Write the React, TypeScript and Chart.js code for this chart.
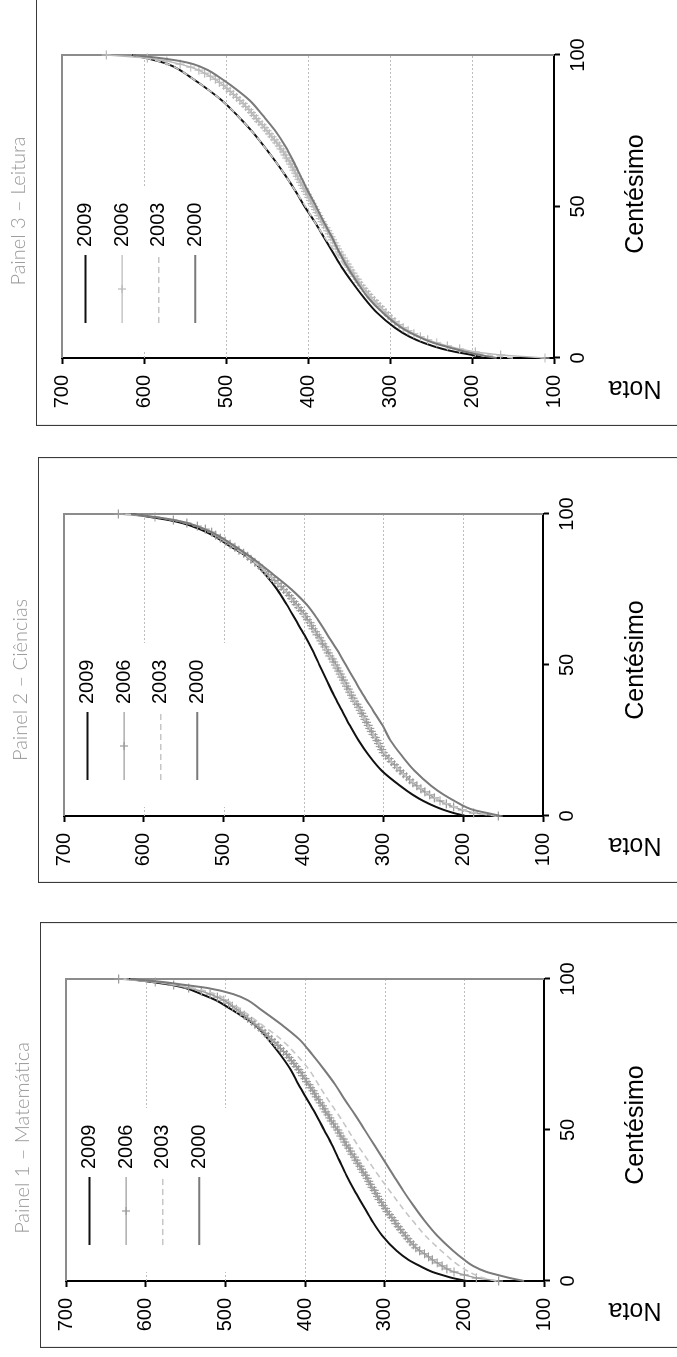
import React, { useEffect, useRef } from "react";
import { Chart, registerables } from "chart.js";

Chart.register(...registerables);

// ---------- data ----------
const YEARS = ["2009", "2006", "2003", "2000"];
const GRID_NOTAS = [200, 300, 400, 500, 600];
const CENT_SPARSE = [0, 1, 2, 3, 5, 7, 10, 15, 20, 25, 30, 35, 40, 45, 50, 55, 60, 65, 70, 75, 80, 85, 90, 93, 95, 97, 98, 99, 100];
const CENT_FULL = Array.from({ length: 101 }, (_, i) => i);

// Painel 1 – Matemática
const MAT_2009 = [197, 215, 228, 240, 256, 270, 285, 303, 316, 327, 338, 348, 357, 366, 376, 386, 397, 408, 418, 431, 446, 464, 493, 512, 530, 550, 567, 592, 621];
const MAT_2003 = [160, 176, 186, 194, 206, 216, 229, 249, 265, 280, 294, 308, 321, 334, 346, 358, 371, 383, 395, 411, 430, 455, 481, 498, 512, 540, 560, 585, 628];
const MAT_2000 = [125, 143, 158, 172, 189, 200, 214, 234, 250, 264, 277, 289, 301, 313, 325, 337, 350, 362, 376, 391, 407, 430, 456, 472, 490, 522, 550, 578, 619];
const MAT_2006 = [
  157, 185, 200, 213, 222, 228, 234, 240, 245, 250,
  256, 261, 264, 268, 271, 274, 277, 280, 283, 286,
  288, 291, 294, 297, 299, 302, 304, 307, 309, 311,
  313, 316, 318, 320, 322, 324, 327, 329, 331, 334,
  336, 338, 341, 343, 345, 348, 350, 352, 355, 357,
  359, 362, 364, 367, 369, 371, 374, 376, 378, 381,
  383, 386, 388, 390, 393, 395, 398, 400, 403, 405,
  408, 411, 414, 417, 420, 423, 427, 431, 434, 438,
  442, 446, 450, 454, 458, 463, 467, 472, 476, 481,
  486, 491, 496, 502, 510, 519, 530, 546, 565, 588,
  634,
];

// Painel 2 – Ciências
const CIE_2009 = [197, 212, 224, 234, 250, 263, 279, 302, 318, 331, 342, 352, 362, 371, 380, 389, 399, 410, 421, 433, 448, 466, 496, 514, 530, 552, 569, 592, 616];
const CIE_2003 = [158, 185, 200, 211, 228, 241, 257, 279, 296, 308, 319, 330, 340, 351, 361, 372, 384, 396, 410, 425, 444, 466, 492, 509, 522, 546, 562, 585, 628];
const CIE_2000 = [153, 170, 187, 197, 211, 224, 240, 261, 277, 291, 301, 313, 325, 336, 347, 358, 370, 382, 396, 415, 438, 462, 490, 508, 524, 545, 562, 586, 616];
const CIE_2006 = [
  156, 187, 201, 212, 221, 229, 236, 242, 248, 253,
  258, 263, 267, 271, 275, 279, 283, 286, 290, 293,
  297, 300, 302, 304, 306, 308, 310, 313, 315, 317,
  319, 321, 323, 325, 327, 329, 331, 333, 336, 338,
  340, 342, 344, 346, 348, 350, 352, 354, 356, 358,
  360, 362, 364, 367, 369, 371, 373, 376, 378, 380,
  383, 385, 388, 390, 392, 395, 397, 400, 403, 406,
  409, 412, 415, 418, 421, 425, 428, 432, 436, 440,
  444, 448, 452, 456, 461, 466, 470, 475, 481, 486,
  492, 498, 504, 510, 515, 523, 533, 546, 563, 586,
  632,
];

// Painel 3 – Leitura
const LEI_2009 = [186, 200, 220, 236, 259, 276, 294, 316, 332, 346, 359, 370, 381, 392, 404, 415, 427, 440, 454, 469, 486, 505, 529, 545, 556, 571, 583, 598, 615];
const LEI_2003 = [150, 178, 205, 222, 246, 263, 283, 306, 324, 340, 354, 367, 380, 392, 403, 415, 427, 440, 454, 469, 486, 505, 529, 545, 556, 571, 583, 598, 616];
const LEI_2000 = [170, 190, 207, 221, 247, 265, 286, 309, 327, 340, 352, 362, 371, 381, 390, 400, 409, 418, 428, 440, 455, 471, 494, 510, 522, 540, 556, 581, 614];
const LEI_2006 = [
  111, 165, 196, 215, 230, 243, 254, 263, 271, 278,
  284, 289, 294, 298, 302, 305, 309, 312, 316, 319,
  323, 326, 329, 332, 335, 338, 340, 343, 345, 348,
  350, 352, 355, 357, 359, 362, 364, 366, 368, 370,
  372, 374, 376, 378, 381, 383, 385, 387, 389, 391,
  393, 395, 397, 399, 401, 403, 405, 407, 409, 411,
  413, 415, 417, 419, 421, 423, 426, 428, 430, 433,
  435, 438, 441, 444, 447, 450, 453, 456, 460, 463,
  466, 469, 472, 476, 479, 483, 487, 491, 495, 499,
  503, 508, 513, 519, 526, 533, 543, 556, 572, 596,
  646,
];

// ---------- styles / layout ----------
const NARROW = "'Liberation Sans Narrow', 'Arial Narrow', 'Liberation Sans', Arial, sans-serif";
const TITLE_FONT = "Lato, 'Open Sans', 'Noto Sans', sans-serif";
const PAGE_W = 677;
const PAGE_H = 1357;

type PanelCfg = {
  key: string;
  title: string;
  T: number; B: number; L: number;
  uL: number; uR: number; vT: number; vB: number;
  titleU: number; centU: number;
  c2006: string;
  s2009: number[]; s2006: number[]; s2003: number[]; s2000: number[];
};

const PANELS: PanelCfg[] = [
  { key: "p3", title: "Painel 3 – Leitura", T: -3, B: 426, L: 36.5, uL: 68, uR: 371, vT: 62, vB: 554, titleU: 215, centU: 232, c2006: "#bababa",
    s2009: LEI_2009, s2006: LEI_2006, s2003: LEI_2003, s2000: LEI_2000 },
  { key: "p2", title: "Painel 2 – Ciências", T: 457, B: 883, L: 38.5, uL: 67, uR: 369, vT: 64, vB: 543, titleU: 203, centU: 223, c2006: "#9c9c9c",
    s2009: CIE_2009, s2006: CIE_2006, s2003: CIE_2003, s2000: CIE_2000 },
  { key: "p1", title: "Painel 1 – Matemática", T: 922, B: 1348, L: 40.5, uL: 67, uR: 369, vT: 66, vB: 544, titleU: 210, centU: 223, c2006: "#9c9c9c",
    s2009: MAT_2009, s2006: MAT_2006, s2003: MAT_2003, s2000: MAT_2000 },
];

function toXY(xs: number[], ys: number[]) {
  return xs.map((x, i) => ({ x, y: ys[i] }));
}

function seriesStyles(c2006: string) {
  return [
    { color: "#111111", width: 2, dash: [] as number[], marker: false },
    { color: c2006, width: 1.4, dash: [] as number[], marker: true },
    { color: "#c6c6c6", width: 1.6, dash: [6, 4], marker: false },
    { color: "#7a7a7a", width: 2, dash: [] as number[], marker: false },
  ];
}

function Panel({ cfg }: { cfg: PanelCfg }) {
  const ref = useRef<HTMLCanvasElement | null>(null);
  const W = cfg.B - cfg.T;
  const H = PAGE_W;

  useEffect(() => {
    const canvas = ref.current;
    if (!canvas) return;
    const styles = seriesStyles(cfg.c2006);
    const seriesData = [
      toXY(CENT_SPARSE, cfg.s2009),
      toXY(CENT_FULL, cfg.s2006),
      toXY(CENT_SPARSE, cfg.s2003),
      toXY(CENT_SPARSE, cfg.s2000),
    ];

    const decor = {
      id: "decor" + cfg.key,
      beforeDatasetsDraw(chart: any) {
        const ctx = chart.ctx as CanvasRenderingContext2D;
        const { left, right, top, bottom } = chart.chartArea;
        const ys = chart.scales.y;
        const xs = chart.scales.x;
        ctx.save();
        // dotted grid lines
        ctx.strokeStyle = "#bdbdbd";
        ctx.lineWidth = 1;
        ctx.setLineDash([2, 2]);
        GRID_NOTAS.forEach((v) => {
          const p = Math.round(ys.getPixelForValue(v)) + 0.5;
          ctx.beginPath();
          ctx.moveTo(left, p);
          ctx.lineTo(right, p);
          ctx.stroke();
        });
        ctx.setLineDash([]);
        // grey plot border (top + right)
        ctx.strokeStyle = "#8c8c8c";
        ctx.lineWidth = 2;
        const yTop = ys.getPixelForValue(700);
        const xRight = xs.getPixelForValue(100);
        ctx.beginPath();
        ctx.moveTo(left, yTop);
        ctx.lineTo(xRight, yTop);
        ctx.lineTo(xRight, bottom);
        ctx.stroke();
        // legend
        ctx.fillStyle = "#ffffff";
        ctx.fillRect(76, top + 4, 164, 158);
        YEARS.forEach((yr, i) => {
          const st = styles[i];
          const v = top + 23.5 + i * 36.6;
          ctx.strokeStyle = st.color;
          ctx.lineWidth = st.width;
          ctx.setLineDash(st.dash);
          ctx.beginPath();
          ctx.moveTo(103, v);
          ctx.lineTo(171, v);
          ctx.stroke();
          ctx.setLineDash([]);
          if (st.marker) {
            ctx.lineWidth = 1.2;
            ctx.beginPath();
            ctx.moveTo(137 - 4, v);
            ctx.lineTo(137 + 4, v);
            ctx.moveTo(137, v - 4);
            ctx.lineTo(137, v + 4);
            ctx.stroke();
          }
          ctx.fillStyle = "#000";
          ctx.font = `20px ${NARROW}`;
          ctx.textAlign = "left";
          ctx.textBaseline = "middle";
          ctx.fillText(yr, 179, v);
        });
        ctx.restore();
      },
      afterDraw(chart: any) {
        const ctx = chart.ctx as CanvasRenderingContext2D;
        ctx.save();
        // outer frame (open at far side)
        ctx.strokeStyle = "#3a3a3a";
        ctx.lineWidth = 1.2;
        ctx.beginPath();
        ctx.moveTo(0.5, H + 5);
        ctx.lineTo(0.5, cfg.L);
        ctx.lineTo(W - 0.5, cfg.L);
        ctx.lineTo(W - 0.5, H + 5);
        ctx.stroke();
        // panel title
        ctx.fillStyle = "#999999";
        ctx.font = `300 20px ${TITLE_FONT}`;
        ctx.textAlign = "center";
        ctx.textBaseline = "alphabetic";
        ctx.fillText(cfg.title, cfg.titleU, cfg.L - 11.5);
        // axis titles
        ctx.fillStyle = "#000";
        ctx.font = `25px ${NARROW}`;
        ctx.fillText("Centésimo", cfg.centU, 643);
        ctx.translate(45, 635);
        ctx.rotate(-Math.PI / 2);
        ctx.fillText("Nota", 0, 0);
        ctx.restore();
      },
    };

    const axisCommon = {
      grid: { drawOnChartArea: false, drawTicks: true, tickLength: 6, tickColor: "#000", tickWidth: 2 },
      border: { display: true, color: "#000", width: 2 },
    };

    const chart = new Chart(canvas, {
      type: "line",
      data: {
        datasets: YEARS.map((yr, i) => {
          const st = styles[i];
          return {
            label: yr,
            data: seriesData[i],
            borderColor: st.color,
            backgroundColor: st.color,
            borderWidth: st.width,
            borderDash: st.dash,
            pointRadius: st.marker ? 4.5 : 0,
            pointStyle: st.marker ? "cross" : "circle",
            pointBorderColor: st.color,
            pointBorderWidth: 1.2,
            cubicInterpolationMode: st.marker ? "default" : "monotone",
            tension: 0,
            fill: false,
            clip: false,
            order: 4 - i,
          } as any;
        }),
      },
      options: {
        responsive: false,
        animation: false,
        events: [],
        layout: { padding: { left: 0, top: cfg.vT, right: W - cfg.uR, bottom: 0 } },
        plugins: { legend: { display: false }, tooltip: { enabled: false } },
        scales: {
          x: {
            type: "linear",
            min: 0,
            max: 100,
            afterFit: (s: any) => { s.height = H - cfg.vB; },
            ticks: { stepSize: 50, padding: 6, color: "#000", maxRotation: 0, autoSkip: false, font: { family: NARROW, size: 20 } },
            ...axisCommon,
          },
          y: {
            type: "linear",
            min: 100,
            max: 700,
            afterFit: (s: any) => { s.width = cfg.uL; },
            ticks: { stepSize: 100, padding: 11, color: "#000", font: { family: NARROW, size: 20 } },
            ...axisCommon,
          },
        },
      } as any,
      plugins: [decor],
    });
    return () => chart.destroy();
  }, [cfg]);

  return (
    <div
      style={{
        position: "absolute",
        left: 0,
        top: cfg.B,
        width: W,
        height: H,
        transformOrigin: "0 0",
        transform: "rotate(-90deg)",
      }}
    >
      <canvas ref={ref} width={W} height={H} style={{ display: "block", width: W, height: H }} />
    </div>
  );
}

export default function App() {
  return (
    <div
      style={{
        position: "fixed",
        left: 0,
        top: 0,
        width: PAGE_W,
        height: PAGE_H,
        overflow: "hidden",
        background: "#ffffff",
      }}
    >
      {PANELS.map((p) => (
        <Panel key={p.key} cfg={p} />
      ))}
    </div>
  );
}
